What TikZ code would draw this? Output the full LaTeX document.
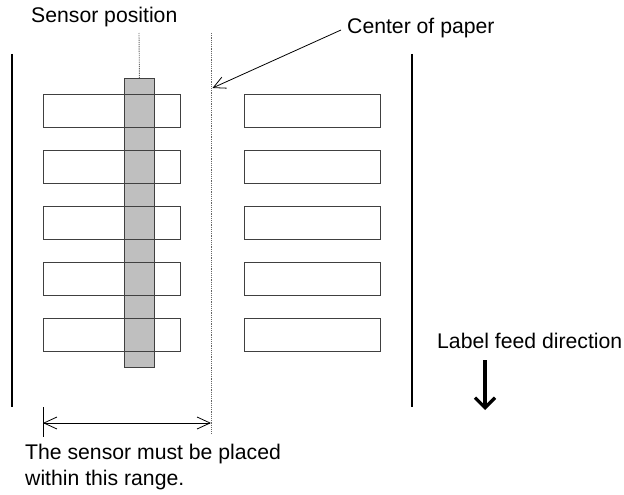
\documentclass[tikz,border=0pt]{standalone}
\usepackage{fontspec}
\setmainfont{Liberation Sans}
\usetikzlibrary{arrows.meta}
\begin{document}
\begin{tikzpicture}[x=1pt,y=-1pt,
  lbl/.style={draw=black!75,line width=0.9pt,minimum width=137pt,minimum height=33pt,inner sep=0pt,anchor=north west},
  strip/.style={draw=black!75,fill=black!25,line width=0.9pt,minimum width=30pt,minimum height=289pt,inner sep=0pt,anchor=north west},
  txt/.style={font=\fontsize{21.2}{26}\selectfont,inner sep=0pt},
  edge/.style={line width=2pt},
  guide/.style={draw=black!60,line width=0.9pt,dash pattern=on 1.2pt off 1pt},
  thin/.style={line width=0.8pt}]
\useasboundingbox (0,0) rectangle (624,495);
% sensor strip drawn first so the label outlines stay visible across it
\node[strip] (s) at (124,78) {};
% label rows
\foreach \i in {0,...,4}{
  \node[lbl] (l\i) at (43,{94+56*\i}) {};
  \node[lbl,minimum width=136pt] (r\i) at (244,{94+56*\i}) {};
}
% paper edges
\coordinate (le1) at (12,54); \coordinate (le2) at (12,407);
\coordinate (re1) at (412,54); \coordinate (re2) at (412,407);
\draw[edge] (le1) -- (le2);
\draw[edge] (re1) -- (re2);
% sensor position guide
\coordinate (sp) at (139,33);
\draw[guide] (sp) -- (s.north);
% center of paper
\coordinate (c1) at (211,33); \coordinate (c2) at (211,434);
\draw[guide] (c1) -- (c2);
% labels
\node[txt,anchor=west] (tsp) at (31,17) {Sensor position};
\node[txt,anchor=west] (tcp) at (347,28) {Center of paper};
\coordinate (ca) at (212.5,88);
\draw[thin,-{Straight Barb[length=12pt,width=12pt]}] (tcp.west) ++(-6,2) coordinate (cs) -- (ca);
% range dimension
\coordinate (d1) at (43,423); \coordinate (d2) at (211,423);
\coordinate (t1) at (43,407); \coordinate (t2) at (43,437);
\draw[thin] (t1) -- (t2);
\draw[thin,{Straight Barb[length=13pt,width=12pt]}-{Straight Barb[length=13pt,width=12pt]}] (d1) -- (d2);
\node[txt,anchor=north west,align=left] (trange) at (25,444) {The sensor must be placed\\within this range.};
% feed direction
\node[txt,anchor=west] (tfeed) at (437,341) {Label feed direction};
\coordinate (f1) at (485,360); \coordinate (f2) at (485,410);
\draw[line width=3.3pt,-{Straight Barb[length=10pt,width=20pt]}] (f1) -- (f2);
\end{tikzpicture}
\end{document}
